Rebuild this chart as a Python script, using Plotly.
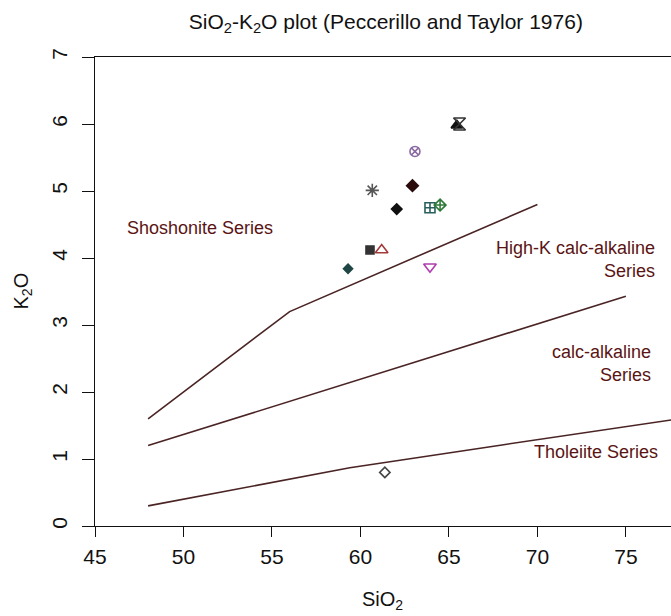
import plotly.graph_objects as go

# ---- data ----
sample_sio2 = [59.3, 60.54, 61.2, 63.93, 63.93, 64.5, 62.05, 60.67, 62.94, 63.08, 65.45, 65.6, 61.38]
sample_k2o = [3.84, 4.12, 4.12, 3.87, 4.75, 4.79, 4.73, 5.01, 5.08, 5.59, 5.98, 6.0, 0.80]
sample_symbol = ["diamond", "square", "triangle-up-open", "triangle-down-open", "square-cross-open",
                 "diamond-cross-open", "diamond", "asterisk-open", "diamond", "circle-x-open",
                 "triangle-up", "hourglass-open", "diamond-open"]
sample_color = ["#1f4545", "#333333", "#a33a3a", "#b03cb0", "#2a5f5f", "#2f7a3a", "#111111",
                "#555555", "#2a0a0a", "#8a6aa0", "#111111", "#333333", "#444444"]
sample_size = [7, 8, 11, 11, 10, 9, 8, 11, 9, 10, 10, 12, 8]

# boundary lines (Peccerillo and Taylor 1976)
shosh_x = [48, 56, 70]
shosh_y = [1.6, 3.2, 4.8]
highk_x = [48, 75]
highk_y = [1.2, 3.43]
thol_x = [48, 59.4, 68, 78]
thol_y = [0.3, 0.87, 1.21, 1.6]

series_labels = ["Shoshonite Series", "High-K calc-alkaline<br>Series", "calc-alkaline<br>Series", "Tholeiite Series"]
label_x = [50.93, 76.75, 76.55, 76.95]
label_y = [4.45, 3.98, 2.43, 1.10]
label_anchor = ["center", "right", "right", "right"]

x_ticks = [45, 50, 55, 60, 65, 70, 75]
y_ticks = [0, 1, 2, 3, 4, 5, 6, 7]

FONT = "Liberation Sans, Arial, sans-serif"
LINE_COL = "#4a2424"
TXT_COL = "#5a1414"

fig = go.Figure()
for lx, ly in [(shosh_x, shosh_y), (highk_x, highk_y), (thol_x, thol_y)]:
    fig.add_trace(go.Scatter(x=lx, y=ly, mode="lines", line=dict(color=LINE_COL, width=1.6),
                             showlegend=False, hoverinfo="skip"))

for sx, sy, sym, col, sz in zip(sample_sio2, sample_k2o, sample_symbol, sample_color, sample_size):
    fig.add_trace(go.Scatter(x=[sx], y=[sy], mode="markers", showlegend=False,
                             marker=dict(symbol=sym, color=col, size=sz,
                                         line=dict(color=col, width=1.6))))

for t, x, y, a in zip(series_labels, label_x, label_y, label_anchor):
    fig.add_annotation(x=x, y=y, xref="x", yref="y", text=t, showarrow=False,
                       xanchor=a, yanchor="middle", align="right" if a == "right" else "center",
                       font=dict(family=FONT, size=18, color=TXT_COL))

# axis titles
fig.add_annotation(x=0.5, y=0, xref="paper", yref="paper", text="SiO<sub>2</sub>", showarrow=False,
                   xanchor="center", yanchor="middle", yshift=-74, xshift=-1,
                   font=dict(family=FONT, size=20, color="#111111"))
fig.add_annotation(x=0, y=0.5, xref="paper", yref="paper", text="K<sub>2</sub>O", showarrow=False,
                   xanchor="center", yanchor="middle", xshift=-73, textangle=-90,
                   font=dict(family=FONT, size=20, color="#111111"))

fig.update_layout(
    width=671, height=616,
    margin=dict(l=95, r=0, t=57, b=90, pad=0),
    paper_bgcolor="white", plot_bgcolor="white",
    title=dict(text="SiO<sub>2</sub>-K<sub>2</sub>O plot (Peccerillo and Taylor 1976)",
               xref="container", yref="container", x=0.575, y=0.965,
               xanchor="center", yanchor="middle",
               font=dict(family=FONT, size=21, color="#111111")),
    font=dict(family=FONT, size=20, color="#111111"),
)
fig.update_xaxes(range=[45, 77.55], tickvals=x_ticks, ticks="outside", ticklen=10, tickwidth=1.3,
                 tickcolor="#111111", showline=True, linecolor="#111111", linewidth=1.3,
                 mirror=True, showgrid=False, zeroline=False, automargin=False,
                 ticklabelstandoff=2,
                 tickfont=dict(family=FONT, size=21, color="#111111"))
fig.update_yaxes(range=[0, 7], tickvals=y_ticks, ticks="outside", ticklen=12, tickwidth=1.3,
                 tickcolor="#111111", showline=True, linecolor="#111111", linewidth=1.3,
                 showgrid=False, zeroline=False, automargin=False, tickangle=-90,
                 ticklabelstandoff=6,
                 tickfont=dict(family=FONT, size=21, color="#111111"))

fig.write_html("out.html")
